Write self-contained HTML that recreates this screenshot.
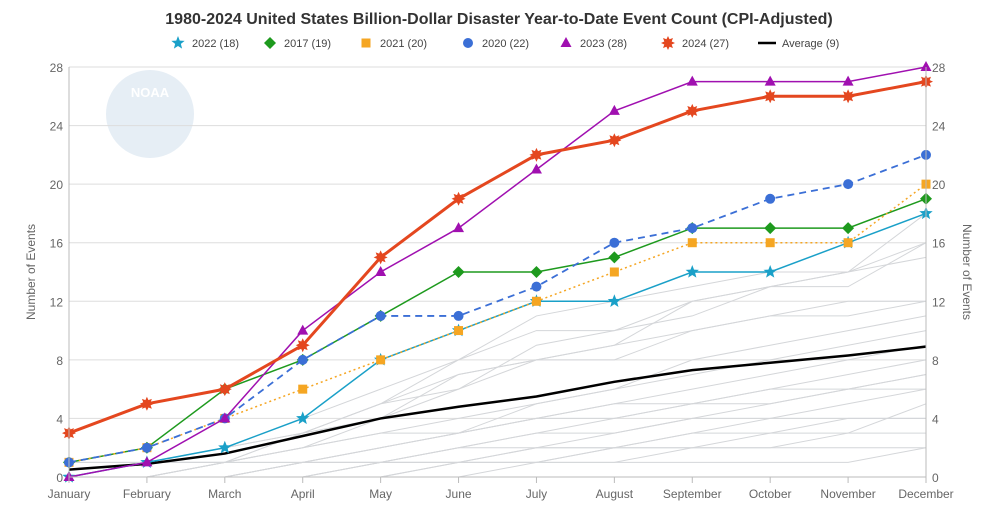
<!DOCTYPE html>
<html><head><meta charset="utf-8"><style>
body{margin:0;background:#fff;font-family:"Liberation Sans",sans-serif}
svg text{font-family:"Liberation Sans",sans-serif}
</style></head><body>
<svg id="c" width="998" height="518">
<text x="499" y="24" text-anchor="middle" font-size="16" font-weight="bold" fill="#333">1980-2024 United States Billion-Dollar Disaster Year-to-Date Event Count (CPI-Adjusted)</text>
<g><circle cx="150" cy="114" r="44" fill="#e6eef5"/><text x="150" y="97" text-anchor="middle" font-size="13" font-weight="bold" fill="#fff">NOAA</text></g>
<g id="grid"></g><g id="bg"></g><g id="series"></g><g id="axes"></g><g id="legend"></g>
</svg>
<script>
const months=["January","February","March","April","May","June","July","August","September","October","November","December"];
const ticks=[0,4,8,12,16,20,24,28];
const s2022=[0,1,2,4,8,10,12,12,14,14,16,18];
const s2017=[1,2,6,8,11,14,14,15,17,17,17,19];
const s2021=[1,2,4,6,8,10,12,14,16,16,16,20];
const s2020=[1,2,4,8,11,11,13,16,17,19,20,22];
const s2023=[0,1,4,10,14,17,21,25,27,27,27,28];
const s2024=[3,5,6,9,15,19,22,23,25,26,26,27];
const avg=[0.5,0.9,1.6,2.8,4.0,4.8,5.5,6.5,7.3,7.8,8.3,8.9];
const bgYears=[
[0,1,1,3,4,7,8,9,12,13,13,16],[0,0,1,2,4,6,9,10,11,13,14,15],[1,1,2,3,5,6,8,8,10,11,11,12],
[0,0,0,1,2,3,5,6,8,9,10,11],[0,1,1,2,3,4,5,6,7,8,9,10],[0,0,1,1,2,3,4,5,6,7,8,9],
[0,0,0,1,1,2,3,4,5,6,7,8],[0,0,0,0,1,2,3,3,4,5,6,7],[0,0,1,1,1,2,2,3,4,4,5,6],
[0,0,0,0,1,1,2,2,3,3,4,4],[0,0,0,1,1,1,2,2,2,3,3,3],[0,0,0,0,0,1,1,2,2,2,3,5],
[0,1,2,3,5,8,11,12,13,14,14,16],[1,1,2,4,6,8,10,10,12,13,14,18],[0,0,1,3,5,7,8,9,10,11,12,12],
[0,0,0,0,1,1,1,1,2,2,2,2],[0,0,0,0,0,0,1,1,1,1,1,2],[0,0,0,1,2,3,4,5,5,6,6,7],
[0,1,1,2,3,3,4,4,5,5,6,6],[0,0,0,0,0,1,1,2,3,4,4,4]];
const X0=69,X1=926,Y0=477,Y1=67;
const x=i=>X0+(X1-X0)*i/11, y=v=>Y0-(Y0-Y1)*v/28;
const NS="http://www.w3.org/2000/svg";
function mk(p,t,a){const e=document.createElementNS(NS,t);for(const k in a)e.setAttribute(k,a[k]);p.appendChild(e);return e;}
const grid=document.getElementById('grid'),axes=document.getElementById('axes'),bg=document.getElementById('bg'),ser=document.getElementById('series'),leg=document.getElementById('legend');
ticks.forEach(t=>{
 const l=mk(grid,'line',{x1:X0,x2:X1,y1:y(t),y2:y(t),stroke:'#ddd'});
 
 
 const a=mk(axes,'text',{x:X0-6,y:y(t)+5,'text-anchor':'end','font-size':12,fill:'#666'});a.textContent=t;
 
 
 const b=mk(axes,'text',{x:X1+6,y:y(t)+5,'font-size':12,fill:'#666'});b.textContent=t;
 
 
});
mk(axes,'line',{x1:X0,x2:X0,y1:Y1,y2:Y0,stroke:'#bbb'});
mk(axes,'line',{x1:X1,x2:X1,y1:Y1,y2:Y0,stroke:'#bbb'});
mk(axes,'line',{x1:X0,x2:X1,y1:Y0,y2:Y0,stroke:'#bbb'});
months.forEach((m,i)=>{
 mk(axes,'line',{x1:x(i),x2:x(i),y1:Y0,y2:Y0+6,stroke:'#bbb'});
 const t=mk(axes,'text',{x:x(i),y:Y0+21,'text-anchor':'middle','font-size':12,fill:'#666'});t.textContent=m;
 
 
});
let lt=mk(axes,'text',{x:35,y:272,'text-anchor':'middle','font-size':12,fill:'#666',transform:'rotate(-90 35 272)'});lt.textContent='Number of Events';


let rt=mk(axes,'text',{x:963,y:272,'text-anchor':'middle','font-size':12,fill:'#666',transform:'rotate(90 963 272)'});rt.textContent='Number of Events';


const pts=d=>d.map((v,i)=>x(i)+','+y(v)).join(' ');
bgYears.forEach(d=>{const p=mk(bg,'polyline',{points:pts(d),fill:'none',stroke:'#d4d6d9','stroke-width':1});
 
 });
function marker(g,shape,cx,cy,c){
 if(shape==='circle')return mk(g,'circle',{cx,cy,r:5,fill:c});
 if(shape==='square')return mk(g,'rect',{x:cx-4.5,y:cy-4.5,width:9,height:9,fill:c});
 if(shape==='diamond')return mk(g,'polygon',{points:`${cx},${cy-6} ${cx+6},${cy} ${cx},${cy+6} ${cx-6},${cy}`,fill:c});
 if(shape==='tri')return mk(g,'polygon',{points:`${cx},${cy-6} ${cx+5.5},${cy+4} ${cx-5.5},${cy+4}`,fill:c});
 if(shape==='star'){let p=[];for(let k=0;k<10;k++){const r=k%2?3:7,a=-Math.PI/2+k*Math.PI/5;p.push((cx+r*Math.cos(a))+','+(cy+r*Math.sin(a)));}return mk(g,'polygon',{points:p.join(' '),fill:c});}
 if(shape==='burst'){let p=[];for(let k=0;k<16;k++){const r=k%2?4:7,a=k*Math.PI/8;p.push((cx+r*Math.cos(a))+','+(cy+r*Math.sin(a)));}return mk(g,'polygon',{points:p.join(' '),fill:c});}
}
const defs=[
 {name:'avg',d:avg,c:'#000',w:2.5,dash:'',m:null,label:'Average (9)'},
 {name:'2022',d:s2022,c:'#1aa0c8',w:1.5,dash:'',m:'star',label:'2022 (18)'},
 {name:'2017',d:s2017,c:'#1e9a1e',w:1.5,dash:'',m:'diamond',label:'2017 (19)'},
 {name:'2021',d:s2021,c:'#f5a623',w:1.5,dash:'2,3',m:'square',label:'2021 (20)'},
 {name:'2020',d:s2020,c:'#3b6fd6',w:1.8,dash:'7,5',m:'circle',label:'2020 (22)'},
 {name:'2023',d:s2023,c:'#a010b0',w:1.5,dash:'',m:'tri',label:'2023 (28)'},
 {name:'2024',d:s2024,c:'#e4471f',w:3,dash:'',m:'burst',label:'2024 (27)'}];
defs.forEach(s=>{
 const g=mk(ser,'g',{});
 
 
 const a={points:pts(s.d),fill:'none',stroke:s.c,'stroke-width':s.w};if(s.dash)a['stroke-dasharray']=s.dash;
 mk(g,'polyline',a);
 if(s.m)s.d.forEach((v,i)=>{const e=marker(g,s.m,x(i),y(v),s.c);
  
  });
});
const order=[1,2,3,4,5,6,0];const lx=[178,270,366,468,566,668,768];
order.forEach((k,j)=>{const s=defs[k];const g=mk(leg,'g',{});
 
 
 if(s.m)marker(g,s.m,lx[j],43,s.c);else mk(g,'line',{x1:lx[j]-10,x2:lx[j]+8,y1:43,y2:43,stroke:'#000','stroke-width':2.5});
 const t=mk(g,'text',{x:lx[j]+14,y:47,'font-size':11,fill:'#444'});t.textContent=s.label;});
</script>
</body></html>
